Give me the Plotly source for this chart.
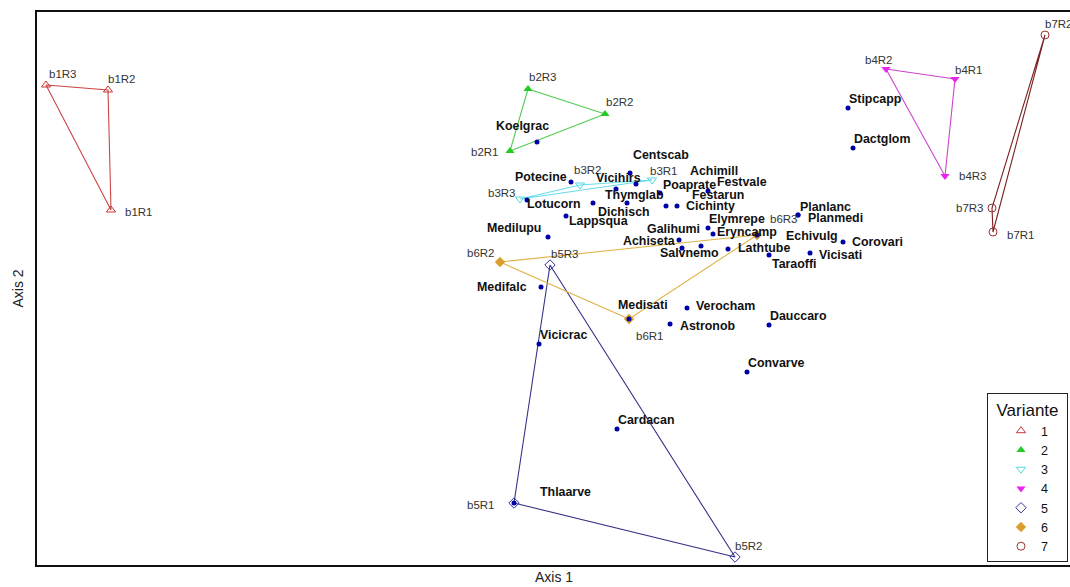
import plotly.graph_objects as go

# Ordination scores (Axis 1, Axis 2) for the sample plots, grouped by variant
variants = ["1", "2", "3", "4", "5", "6", "7"]
sample_names = {
    "1": ["b1R1", "b1R2", "b1R3"],
    "2": ["b2R1", "b2R2", "b2R3"],
    "3": ["b3R1", "b3R2", "b3R3"],
    "4": ["b4R1", "b4R2", "b4R3"],
    "5": ["b5R1", "b5R2", "b5R3"],
    "6": ["b6R1", "b6R2", "b6R3"],
    "7": ["b7R1", "b7R2", "b7R3"],
}
sample_ax1 = {
    "1": [74, 71, 9],
    "2": [473, 568, 491],
    "3": [615, 543, 483],
    "4": [918, 849, 908],
    "5": [477, 698, 513],
    "6": [592, 463, 720],
    "7": [956, 1008, 955],
}
sample_ax2 = {
    "1": [355, 475, 480],
    "2": [414, 451, 476],
    "3": [385, 380, 366],
    "4": [486, 496, 389],
    "5": [62, 8, 300],
    "6": [246, 303, 330],
    "7": [333, 530, 357],
}

# Species scores
species = ["Stipcapp", "Dactglom", "Koelgrac", "Centscab", "Potecine", "Vicihirs",
           "Achimill", "Poaprate", "Festvale", "Thymglab", "Festarun", "Lotucorn",
           "Dichisch", "Cichinty", "Lappsqua", "Planlanc", "Elymrepe", "Planmedi",
           "Medilupu", "Galihumi", "Eryncamp", "Echivulg", "Corovari", "Achiseta",
           "Salvnemo", "Lathtube", "Vicisati", "Taraoffi", "Medifalc", "Medisati",
           "Verocham", "Dauccaro", "Astronob", "Vicicrac", "Convarve", "Cardacan",
           "Thlaarve"]
species_ax1 = [811, 816, 500, 593, 534, 579,
               599, 623, 629, 590, 671, 490,
               556, 640, 529, 761, 664, 761,
               511, 671, 676, 720, 806, 642,
               645, 691, 773, 732, 504, 592,
               650, 732, 633, 502, 710, 580,
               477]
species_ax2 = [457, 417, 423, 392, 383, 376,
               381, 372, 359, 362, 374, 365,
               362, 359, 349, 350, 319, 350,
               328, 337, 331, 330, 323, 325,
               317, 316, 312, 310, 278, 246,
               257, 240, 241, 221, 193, 136,
               62]

# Label placement (pixel offsets of the label centre from its point)
species_dx = [27, 29, -15, 31, -30, 2,
              78, 29, 76, 7, 10, 27,
              31, 33, 32, 27, 36, 37,
              -34, -35, 34, 55, 34, -30,
              7, 36, 30, 25, -39, 14,
              38, 29, 37, 24, 29, 29,
              51]
species_dy = [9, 9, 16, 18, 5, 11,
              13, 8, 24, 8, -4, -4,
              -9, 0, -5, 8, 27, -3,
              9, -1, 2, -1, 0, -1,
              -5, 1, -2, -9, 0, 14,
              2, 9, -2, 9, 9, 9,
              11]
sample_dx = {
    "1": [28, 14, 17], "2": [-25, 15, 15], "3": [12, 8, -18], "4": [14, -7, 28],
    "5": [-33, 14, 15], "6": [21, -19, 27], "7": [28, 14, -22],
}
sample_dy = {
    "1": [-2, 11, 11], "2": [-1, 12, 12], "3": [9, 15, 6], "4": [9, 9, 0],
    "5": [-2, 11, 11], "6": [-17, 9, 16], "7": [-3, 11, 0],
}

symbols = {"1": "triangle-up-open", "2": "triangle-up", "3": "triangle-down-open",
           "4": "triangle-down", "5": "diamond-open", "6": "diamond", "7": "circle-open"}
marker_colors = {"1": "#cc3333", "2": "#22cc22", "3": "#55d8e0", "4": "#ee22ee",
                 "5": "#333399", "6": "#d9a030", "7": "#993333"}
line_colors = {"1": "#cc4444", "2": "#55cc55", "3": "#66dde8", "4": "#cc44cc",
               "5": "#333388", "6": "#e0b448", "7": "#7a2020"}

FONT = "Arial, Liberation Sans, sans-serif"
LEGEND_PAD = "\u00a0" * 4  # widens the legend box towards the right edge

fig = go.Figure()

# Convex hull (triangle) of each variant's replicates
for v in variants:
    xs = sample_ax1[v] + sample_ax1[v][:1]
    ys = sample_ax2[v] + sample_ax2[v][:1]
    fig.add_trace(go.Scatter(x=xs, y=ys, mode="lines", showlegend=False,
                             line=dict(color=line_colors[v], width=1.1),
                             hoverinfo="skip"))

# Replicate markers (also provide the legend entries)
for v in variants:
    open_sym = symbols[v].endswith("open")
    fig.add_trace(go.Scatter(
        x=sample_ax1[v], y=sample_ax2[v], mode="markers", name=v + LEGEND_PAD,
        text=sample_names[v],
        marker=dict(symbol=symbols[v], size=8, color=marker_colors[v],
                    line=dict(color=marker_colors[v], width=1 if open_sym else 0)),
    ))

# Species points
fig.add_trace(go.Scatter(x=species_ax1, y=species_ax2, mode="markers",
                         text=species, showlegend=False,
                         marker=dict(size=5, color="#0000a8")))

annotations = []
for v in variants:
    for name, x, y, dx, dy in zip(sample_names[v], sample_ax1[v], sample_ax2[v],
                                  sample_dx[v], sample_dy[v]):
        annotations.append(dict(x=x, y=y, xref="x", yref="y", text=name,
                                showarrow=False, xshift=dx, yshift=dy,
                                xanchor="center", yanchor="middle",
                                font=dict(family=FONT, size=11.5, color="#333333")))
for name, x, y, dx, dy in zip(species, species_ax1, species_ax2, species_dx, species_dy):
    annotations.append(dict(x=x, y=y, xref="x", yref="y", text=name,
                            showarrow=False, xshift=dx, yshift=dy,
                            xanchor="center", yanchor="middle",
                            font=dict(family=FONT, size=12.4, color="#111111",
                                      weight="bold")))

# Axis titles
annotations.append(dict(x=0.5, y=-0.022, xref="paper", yref="paper", text="Axis 1",
                        showarrow=False, xanchor="center", yanchor="middle",
                        font=dict(family=FONT, size=14, color="#222222")))
annotations.append(dict(x=-0.0184, y=0.5, xref="paper", yref="paper", text="Axis 2",
                        showarrow=False, xanchor="center", yanchor="middle",
                        textangle=-90,
                        font=dict(family=FONT, size=14, color="#222222")))

fig.update_layout(
    width=1070, height=587,
    margin=dict(l=37, r=0, t=12, b=22, autoexpand=False),
    paper_bgcolor="white", plot_bgcolor="white",
    annotations=annotations,
    showlegend=True,
    legend=dict(
        x=(987 - 37) / 1033, y=(565 - 393) / 553, xanchor="left", yanchor="top",
        bgcolor="white", bordercolor="#222222", borderwidth=1,
        font=dict(family=FONT, size=12.5, color="#111111"),
        title=dict(text="Variante", side="top center",
                   font=dict(family=FONT, size=17, color="#111111")),
        indentation=13, itemwidth=30, tracegroupgap=0,
    ),
    xaxis=dict(range=[0, 1033], showgrid=False, zeroline=False, showticklabels=False,
               ticks="", showline=True, linecolor="#111111", linewidth=2, mirror=True),
    yaxis=dict(range=[0, 553], showgrid=False, zeroline=False, showticklabels=False,
               ticks="", showline=True, linecolor="#111111", linewidth=2, mirror=False),
)

fig.write_html("out.html")
